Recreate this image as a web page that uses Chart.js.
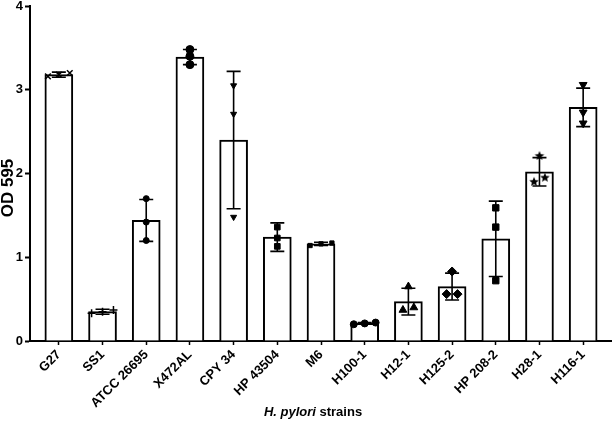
<!DOCTYPE html>
<html>
<head>
<meta charset="utf-8">
<script src="https://cdn.jsdelivr.net/npm/chart.js@4"></script>
<style>
  html, body { margin: 0; padding: 0; background: #fff; overflow: hidden; }
  /* a little wider than the window so the x axis runs to the right edge */
  #wrap { width: 618px; height: 433px; position: relative; }
</style>
</head>
<body>
<div id="wrap"><canvas id="odChart"></canvas></div>
<script>
const strains = ['G27', 'SS1', 'ATCC 26695', 'X472AL', 'CPY 34', 'HP 43504', 'M6',
                 'H100-1', 'H12-1', 'H125-2', 'HP 208-2', 'H28-1', 'H116-1'];
const means = [3.18, 0.35, 1.44, 3.39, 2.40, 1.24, 1.16, 0.21, 0.47, 0.65, 1.22, 2.02, 2.79];
const sds   = [0.03, 0.03, 0.25, 0.09, 0.82, 0.17, 0.02, 0.01, 0.16, 0.16, 0.45, 0.17, 0.23];
const replicates = [
  [3.20, 3.16, 3.18],
  [0.37, 0.33, 0.35],
  [1.70, 1.42, 1.20],
  [3.48, 3.40, 3.30],
  [3.05, 2.71, 1.48],
  [1.36, 1.23, 1.13],
  [1.14, 1.16, 1.17],
  [0.21, 0.22, 0.20],
  [0.65, 0.37, 0.40],
  [0.83, 0.56, 0.56],
  [1.59, 1.36, 0.72],
  [2.21, 1.90, 1.95],
  [3.06, 2.73, 2.60]
];
const yTicks = [0, 1, 2, 3, 4];

// small filled star for H28-1
function makeStar(r) {
  const c = document.createElement('canvas');
  c.width = c.height = r * 2 + 2;
  const g = c.getContext('2d');
  g.fillStyle = '#000';
  g.beginPath();
  for (let k = 0; k < 10; k++) {
    const rad = k % 2 === 0 ? r : r * 0.45;
    const a = -Math.PI / 2 + k * Math.PI / 5;
    const px = r + 1 + rad * Math.cos(a), py = r + 1 + rad * Math.sin(a);
    k === 0 ? g.moveTo(px, py) : g.lineTo(px, py);
  }
  g.closePath();
  g.fill();
  return c;
}

// marker look per strain
const markers = [
  { style: 'crossRot', r: 4,   rot: 0 },
  { style: 'cross',    r: 4,   rot: 0 },
  { style: 'circle',   r: 3,   rot: 0 },
  { style: 'circle',   r: 4,   rot: 0 },
  { style: 'triangle', r: 3.5, rot: 180 },
  { style: 'rect',     r: 4,   rot: 0 },
  { style: 'rect',     r: 3,   rot: 0 },
  { style: 'circle',   r: 3.5, rot: 0 },
  { style: 'triangle', r: 4.5, rot: 0 },
  { style: 'rectRot',  r: 4.5, rot: 0 },
  { style: 'rect',     r: 4.5, rot: 0 },
  { style: makeStar(5), r: 5,  rot: 0 },
  { style: 'triangle', r: 4.5, rot: 180 }
];

// spread points that sit on top of each other (like a column scatter)
function jitter(vals) {
  const idx = vals.map((v, i) => i).sort((a, b) => vals[a] - vals[b]);
  const groups = [];
  idx.forEach(i => {
    const g = groups[groups.length - 1];
    if (g && vals[i] - vals[g[g.length - 1]] < 0.06) g.push(i);
    else groups.push([i]);
  });
  const off = new Array(vals.length).fill(0);
  groups.forEach(g => g.forEach((i, k) => { off[i] = (k - (g.length - 1) / 2) * 0.25; }));
  return off;
}

const pointSets = replicates.map((vals, i) => {
  const off = jitter(vals);
  const m = markers[i];
  return {
    type: 'scatter',
    order: 0,
    data: vals.map((v, k) => ({ x: i + off[k], y: v })),
    pointStyle: m.style,
    pointRadius: m.r,
    pointRotation: m.rot,
    pointBackgroundColor: '#000',
    pointBorderColor: '#000',
    pointBorderWidth: m.style === 'cross' || m.style === 'crossRot' ? 1.5 : 1
  };
});

const errorBars = {
  id: 'errorBars',
  afterDatasetDraw(chart, args) {
    if (args.index !== 0) return;
    const { ctx, scales: { x, y } } = chart;
    ctx.save();
    ctx.strokeStyle = '#000';
    ctx.lineWidth = 1.6;
    means.forEach((m, i) => {
      const cx = x.getPixelForValue(i);
      const top = y.getPixelForValue(m + sds[i]);
      const bot = y.getPixelForValue(m - sds[i]);
      ctx.beginPath();
      ctx.moveTo(cx, top); ctx.lineTo(cx, bot);
      ctx.moveTo(cx - 7, top); ctx.lineTo(cx + 7, top);
      ctx.moveTo(cx - 7, bot); ctx.lineTo(cx + 7, bot);
      ctx.stroke();
    });
    ctx.restore();
  }
};

// axis titles: x title has an italic genus name, y title sits a bit low like the original
const titles = {
  id: 'titles',
  afterDraw(chart) {
    const { ctx } = chart;
    ctx.save();
    ctx.fillStyle = '#000';
    ctx.textBaseline = 'middle';
    const a = 'H. pylori', b = ' strains';
    const it = 'italic bold 13px "Liberation Sans", Arial, sans-serif';
    const rg = 'bold 13px "Liberation Sans", Arial, sans-serif';
    ctx.font = it;
    const wa = ctx.measureText(a).width;
    ctx.font = rg;
    const wb = ctx.measureText(b).width;
    const x0 = 313 - (wa + wb) / 2;
    ctx.font = it;
    ctx.fillText(a, x0, 412);
    ctx.font = rg;
    ctx.fillText(b, x0 + wa, 412);

    ctx.translate(8, 188);
    ctx.rotate(-Math.PI / 2);
    ctx.textAlign = 'center';
    ctx.font = 'bold 17px "Liberation Sans", Arial, sans-serif';
    ctx.fillText('OD 595', 0, 0);
    ctx.restore();
  }
};

const font = { family: '"Liberation Sans", Arial, sans-serif', weight: 'bold', size: 13 };

new Chart(document.getElementById('odChart'), {
  data: {
    datasets: [{
      type: 'bar',
      order: 10,
      data: means.map((m, i) => ({ x: i, y: m })),
      backgroundColor: '#fff',
      borderColor: '#000',
      borderWidth: 2,
      borderSkipped: 'bottom',
      barThickness: 28
    }, ...pointSets]
  },
  plugins: [errorBars, titles],
  options: {
    responsive: true,
    maintainAspectRatio: false,
    animation: false,
    layout: { padding: { top: 4, right: 0, bottom: 0, left: 0 } },
    plugins: { legend: { display: false }, tooltip: { enabled: false } },
    scales: {
      x: {
        type: 'linear',
        offset: false,
        bounds: 'data',
        min: -0.66,
        max: 12.66,
        afterBuildTicks: s => { s.ticks = strains.map((n, i) => ({ value: i })); },
        afterFit: s => { s.height = 92; s.paddingLeft = 0; s.paddingRight = 0; },
        ticks: {
          color: '#000',
          font: font,
          minRotation: 45,
          maxRotation: 45,
          padding: 2,
          callback: v => strains[v]
        },
        grid: { offset: false, drawOnChartArea: false, tickLength: 4, tickColor: '#000', tickWidth: 1.5 },
        border: { color: '#000', width: 2 }
      },
      y: {
        min: 0,
        max: 4,
        afterBuildTicks: s => { s.ticks = yTicks.map(v => ({ value: v })); },
        afterFit: s => { s.width = 30; s.paddingTop = 0; s.paddingBottom = 0; },
        ticks: { color: '#000', font: font, padding: 2 },
        grid: { drawOnChartArea: false, tickLength: 5, tickColor: '#000', tickWidth: 2 },
        border: { color: '#000', width: 2 }
      }
    }
  }
});
</script>
</body>
</html>
